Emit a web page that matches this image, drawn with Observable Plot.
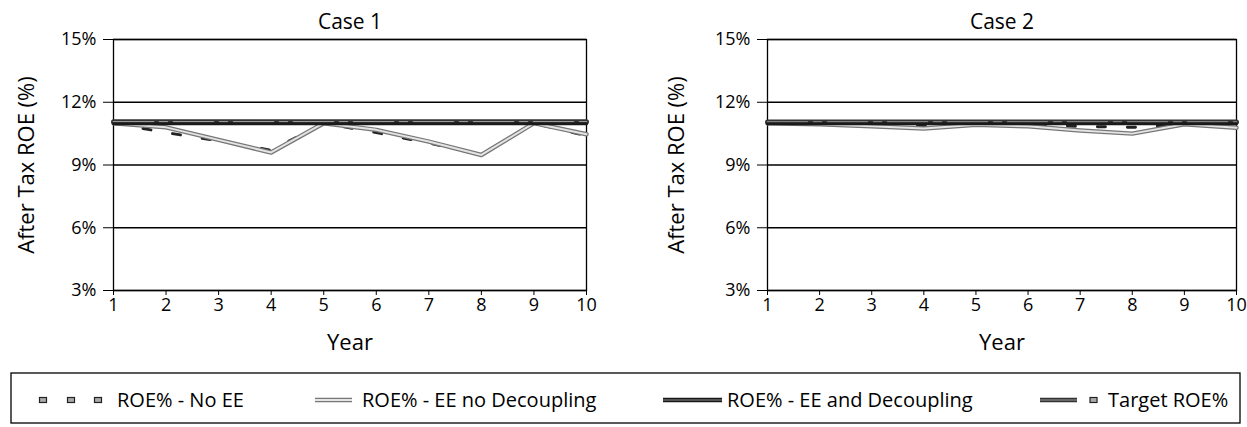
<!DOCTYPE html>
<html>
<head>
<meta charset="utf-8">
<script src="https://cdn.jsdelivr.net/npm/d3@7"></script>
<script src="https://cdn.jsdelivr.net/npm/@observablehq/plot@0.6"></script>
<style>
  html, body { margin: 0; padding: 0; background: white; }
  #wrap { width: 1247px; height: 427px; position: relative; overflow: hidden; font-family: "Open Sans", sans-serif; }
  #charts { display: flex; }
  svg { display: block; }
</style>
</head>
<body>
<div id="wrap">
  <div id="charts"></div>
  <div id="legend"></div>
</div>
<script>
// ---------- data ----------
const years = [1, 2, 3, 4, 5, 6, 7, 8, 9, 10];
const yTicks = [3, 6, 9, 12, 15];
const caseTitles = ["Case 1", "Case 2"];
const seriesNames = ["ROE% - No EE", "ROE% - EE no Decoupling", "ROE% - EE and Decoupling", "Target ROE%"];

const case1NoEE        = [11.0, 10.55, 10.15, 9.7, 11.0, 10.55, 10.05, 9.5, 11.0, 10.4];
const case1EENoDecoup  = [11.0, 10.8, 10.2, 9.6, 11.0, 10.68, 10.12, 9.48, 11.0, 10.47];
const case1EEDecoup    = [10.97, 10.97, 10.97, 10.97, 10.97, 10.97, 10.97, 10.97, 10.97, 10.97];
const case1Target      = [11.07, 11.07, 11.07, 11.07, 11.07, 11.07, 11.07, 11.07, 11.07, 11.07];

const case2NoEE        = [11.0, 10.95, 10.9, 10.85, 10.92, 10.9, 10.85, 10.8, 10.95, 10.88];
const case2EENoDecoup  = [11.0, 10.95, 10.85, 10.75, 10.92, 10.85, 10.65, 10.5, 10.95, 10.78];
const case2EEDecoup    = [10.97, 10.97, 10.97, 10.97, 10.97, 10.97, 10.97, 10.97, 10.97, 10.97];
const case2Target      = [11.05, 11.05, 11.05, 11.05, 11.05, 11.05, 11.05, 11.05, 11.05, 11.05];

// ---------- build tables ----------
function rows(noEE, eeNo, eeDec, target) {
  return years.map((yr, i) => ({year: yr, noEE: noEE[i], eeNo: eeNo[i], eeDec: eeDec[i], target: target[i]}));
}
const data1 = rows(case1NoEE, case1EENoDecoup, case1EEDecoup, case1Target);
const data2 = rows(case2NoEE, case2EENoDecoup, case2EEDecoup, case2Target);

function chart(title, data, width, ml, mr, yLabDx) {
  return Plot.plot({
    width: width,
    height: 365,
    marginLeft: ml,
    marginRight: mr,
    marginTop: 39,
    marginBottom: 75,
    style: {fontFamily: "Open Sans", fontSize: "18px", color: "black", background: "white", overflow: "visible"},
    x: {domain: [1, 10]},
    y: {domain: [3, 15]},
    marks: [
      Plot.ruleY(yTicks, {stroke: "black", strokeWidth: 1.3}),
      Plot.frame({stroke: "black", strokeWidth: 1.3}),
      Plot.axisY({ticks: yTicks, tickFormat: d => d + "%", tickSize: 10, tickPadding: 7, label: null, stroke: "black"}),
      Plot.axisX({ticks: years, tickFormat: d => String(d), tickSize: 5, tickPadding: 3, label: null, stroke: "black"}),
      // No EE (dashed)
      Plot.line(data, {x: "year", y: "noEE", stroke: "#222", strokeWidth: 3, strokeDasharray: "8,22"}),
      // EE no Decoupling (light gray double line)
      Plot.line(data, {x: "year", y: "eeNo", stroke: "#777", strokeWidth: 4.5}),
      Plot.line(data, {x: "year", y: "eeNo", stroke: "#e4e4e4", strokeWidth: 2}),
      // Target ROE%
      Plot.line(data, {x: "year", y: "target", stroke: "#333", strokeWidth: 5}),
      Plot.line(data, {x: "year", y: "target", stroke: "#999", strokeWidth: 1.5, strokeDasharray: "40,6,8,6"}),
      // EE and Decoupling (dark thick)
      Plot.line(data, {x: "year", y: "eeDec", stroke: "#1a1a1a", strokeWidth: 3}),
      Plot.text([title], {text: d => d, frameAnchor: "top", dy: -17, lineAnchor: "middle", fontSize: 21, fill: "black"}),
      Plot.text(["Year"], {text: d => d, frameAnchor: "bottom", dy: 52, lineAnchor: "middle", fontSize: 22, fill: "black"}),
      Plot.text(["After Tax ROE (%)"], {text: d => d, frameAnchor: "left", dx: yLabDx, rotate: -90, textAnchor: "middle", lineAnchor: "middle", fontSize: 22, fill: "black"})
    ]
  });
}

const charts = document.getElementById("charts");
charts.appendChild(chart(caseTitles[0], data1, 623, 113, 37, -87));
charts.appendChild(chart(caseTitles[1], data2, 624, 144, 11, -91));

// ---------- legend ----------
const lg = d3.select("#legend").append("svg").attr("width", 1247).attr("height", 62)
  .style("font-family", "Open Sans");
lg.append("rect").attr("x", 11).attr("y", 8).attr("width", 1229).attr("height", 50)
  .attr("fill", "white").attr("stroke", "black").attr("stroke-width", 1.3);
const cy = 35;
// item 1: No EE squares
[43, 71, 98].forEach(cx => {
  lg.append("rect").attr("x", cx - 3.5).attr("y", cy - 2.5).attr("width", 7).attr("height", 5)
    .attr("fill", "#aaa").attr("stroke", "#222").attr("stroke-width", 1.2);
});
// item 2: EE no Decoupling
lg.append("line").attr("x1", 315).attr("x2", 352).attr("y1", cy).attr("y2", cy).attr("stroke", "#777").attr("stroke-width", 4.5);
lg.append("line").attr("x1", 315).attr("x2", 352).attr("y1", cy).attr("y2", cy).attr("stroke", "#e4e4e4").attr("stroke-width", 2);
// item 3: EE and Decoupling
lg.append("line").attr("x1", 663).attr("x2", 722).attr("y1", cy).attr("y2", cy).attr("stroke", "#1a1a1a").attr("stroke-width", 4.5);
lg.append("line").attr("x1", 663).attr("x2", 722).attr("y1", cy).attr("y2", cy).attr("stroke", "#888").attr("stroke-width", 1.2);
// item 4: Target
lg.append("line").attr("x1", 1040).attr("x2", 1077).attr("y1", cy).attr("y2", cy).attr("stroke", "#333").attr("stroke-width", 4.5);
lg.append("line").attr("x1", 1040).attr("x2", 1077).attr("y1", cy).attr("y2", cy).attr("stroke", "#999").attr("stroke-width", 1.2);
lg.append("rect").attr("x", 1090).attr("y", cy - 2.5).attr("width", 7).attr("height", 5)
  .attr("fill", "#aaa").attr("stroke", "#222").attr("stroke-width", 1.2);

const textX = [117, 362, 727, 1108];
seriesNames.forEach((name, i) => {
  lg.append("text").attr("x", textX[i]).attr("y", cy).attr("dy", "0.35em")
    .attr("font-size", 20).attr("fill", "black").text(name);
});
</script>
</body>
</html>
